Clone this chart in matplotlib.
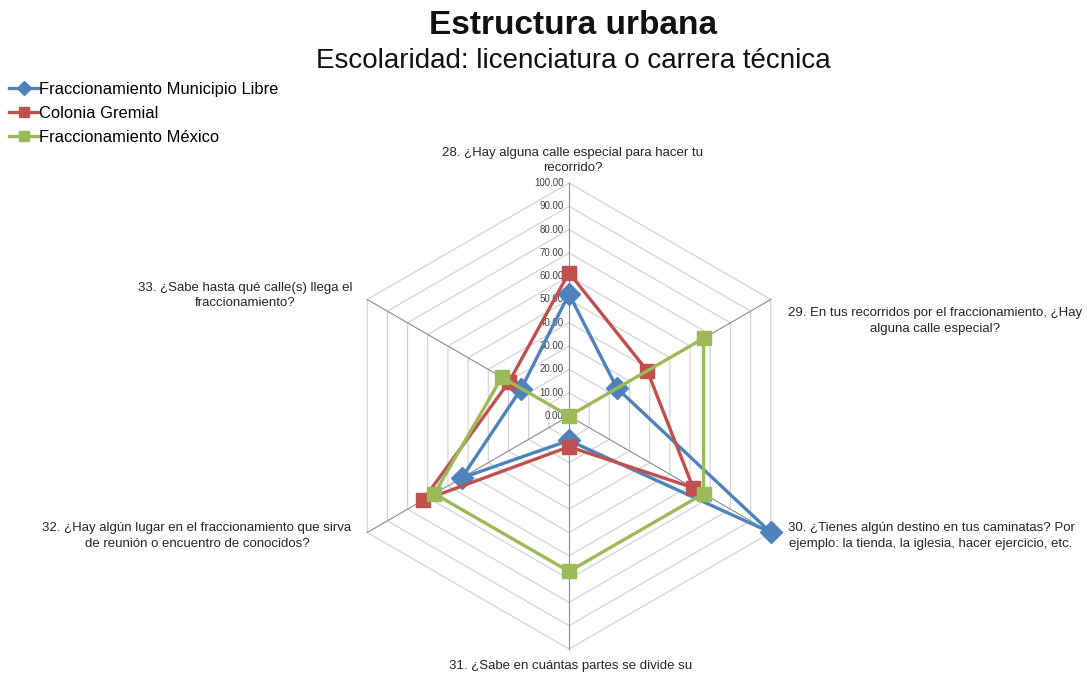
import numpy as np
import matplotlib
matplotlib.use("Agg")
import matplotlib.pyplot as plt

plt.rcParams['font.family'] = ['Liberation Sans', 'DejaVu Sans']

title = "Estructura urbana"
subtitle = "Escolaridad: licenciatura o carrera técnica"

categories = [
    "28. ¿Hay alguna calle especial para hacer tu\nrecorrido?",
    "29. En tus recorridos por el fraccionamiento, ¿Hay\nalguna calle especial?",
    "30. ¿Tienes algún destino en tus caminatas? Por\nejemplo: la tienda, la iglesia, hacer ejercicio, etc.",
    "31. ¿Sabe en cuántas partes se divide su",
    "32. ¿Hay algún lugar en el fraccionamiento que sirva\nde reunión o encuentro de conocidos?",
    "33. ¿Sabe hasta qué calle(s) llega el\nfraccionamiento?",
]
series_names = ["Fraccionamiento Municipio Libre", "Colonia Gremial", "Fraccionamiento México"]
municipio_libre = [52.4, 23.8, 100.0, 10.5, 53.2, 23.6]
colonia_gremial = [61.5, 38.8, 61.5, 13.2, 72.5, 29.6]
fracc_mexico = [0.0, 66.7, 66.7, 66.7, 66.7, 33.3]
ticks = np.arange(0, 101, 10)

colors = ["#4F81BD", "#C0504D", "#9BBB59"]
markers = ["D", "s", "s"]

# axes in value units: 2.33 px per unit, centre at pixel (569, 416)
W, H, scale = 1091, 677, 2.33
cx, cy = 569, 416
fig = plt.figure(figsize=(W / 100, H / 100), dpi=100)
ax = fig.add_axes([0, 0, 1, 1])
ax.set_xlim(-cx / scale, (W - cx) / scale)
ax.set_ylim(-(H - cy) / scale, cy / scale)
ax.axis("off")

angles = np.deg2rad(90 - 60 * np.arange(len(categories)))
ca, sa = np.cos(angles), np.sin(angles)

# hexagonal grid
for t in ticks[1:]:
    ax.plot(np.append(ca, ca[0]) * t, np.append(sa, sa[0]) * t,
            color="#D0D0D0", lw=0.8, zorder=1)
for c, s in zip(ca, sa):
    ax.plot([0, c * 100], [0, s * 100], color="#8C8C8C", lw=0.8, zorder=1)
for t in ticks:
    ax.text(-2.3, t, f"{t:.2f}", ha="right", va="center", fontsize=7, color="#404040", zorder=2)

# series
for name, vals, col, mk in zip(series_names, [municipio_libre, colonia_gremial, fracc_mexico],
                              colors, markers):
    v = np.array(vals)
    xs, ys = np.append(ca * v, ca[0] * v[0]), np.append(sa * v, sa[0] * v[0])
    ms = 11 if mk == "D" else 9.5
    ax.plot(xs, ys, color=col, lw=2.4, marker=mk, ms=ms, markevery=range(len(v)),
            label=name, zorder=3)

# category labels
lab_pos = [
    (1.7, 109.5),
    (157, 40.8),
    (155.4, -51.5),
    (0.5, -107.3),
    (-159.7, -51.5),
    (-139, 51.7),
]
for text, (x, y) in zip(categories, lab_pos):
    ax.text(x, y, text, ha="center", va="center", fontsize=9.5, color="#262626",
            linespacing=1.35)

fig.text(573 / W, 1 - 26 / H, title, ha="center", va="center", fontsize=24,
         fontweight="bold", color="#111111")
fig.text(573 / W, 1 - 61 / H, subtitle, ha="center", va="center", fontsize=20,
         color="#111111")

leg = ax.legend(loc="upper left", bbox_to_anchor=(9 / W, 1 - 82 / H), bbox_transform=fig.transFigure,
                frameon=False, fontsize=11.9, handlelength=1.8, handletextpad=0.0,
                labelspacing=0.55, borderpad=0.0, borderaxespad=0.0)
for h in leg.legend_handles:
    h.set_markersize(7)

fig.savefig("out.png", dpi=100)
